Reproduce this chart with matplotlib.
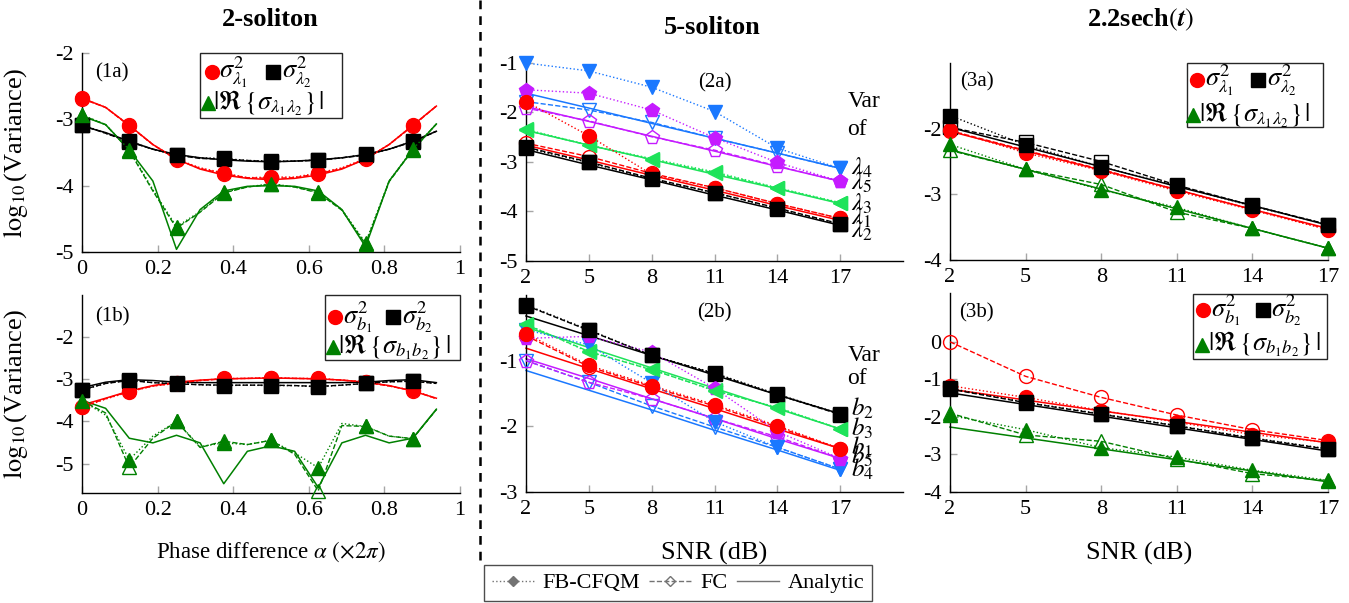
import matplotlib
matplotlib.use("Agg")
import matplotlib.pyplot as plt
from matplotlib.lines import Line2D
from matplotlib.patches import Rectangle

plt.rcParams['font.family'] = 'serif'
plt.rcParams['font.serif'] = ['Liberation Serif', 'DejaVu Serif']
plt.rcParams['mathtext.fontset'] = 'stix'
plt.rcParams['axes.unicode_minus'] = False

# ---------------- data ----------------
alpha = [0, 0.0625, 0.125, 0.1875, 0.25, 0.3125, 0.375, 0.4375,
         0.5, 0.5625, 0.625, 0.6875, 0.75, 0.8125, 0.875, 0.9375]
snr = [2, 5, 8, 11, 14, 17]

# (1a) 2-soliton eigenvalue variances
p1a_l1_fb = [-2.68, -2.82, -3.09, -3.38, -3.60, -3.73, -3.81, -3.88, -3.87, -3.87, -3.81, -3.73, -3.59, -3.38, -3.09, -2.80]
p1a_l1_fc = [-2.69, -2.82, -3.10, -3.38, -3.61, -3.74, -3.82, -3.88, -3.89, -3.88, -3.82, -3.74, -3.60, -3.38, -3.10, -2.80]
p1a_l1_an = [-2.68, -2.82, -3.09, -3.38, -3.60, -3.75, -3.84, -3.89, -3.91, -3.89, -3.84, -3.75, -3.60, -3.38, -3.09, -2.80]
p1a_l2_fb = [-3.08, -3.21, -3.33, -3.45, -3.54, -3.58, -3.59, -3.62, -3.63, -3.63, -3.61, -3.58, -3.53, -3.45, -3.33, -3.18]
p1a_l2_fc = [-3.09, -3.21, -3.34, -3.45, -3.54, -3.59, -3.60, -3.62, -3.64, -3.63, -3.62, -3.58, -3.54, -3.45, -3.34, -3.18]
p1a_l2_an = [-3.10, -3.20, -3.33, -3.45, -3.53, -3.58, -3.61, -3.63, -3.64, -3.63, -3.61, -3.58, -3.53, -3.45, -3.33, -3.18]
p1a_c_fb = [-2.93, -3.08, -3.46, -4.06, -4.62, -4.39, -4.10, -4.02, -3.97, -4.02, -4.10, -4.36, -4.86, -3.93, -3.45, -3.07]
p1a_c_fc = [-2.94, -3.08, -3.47, -4.08, -4.64, -4.40, -4.11, -4.02, -3.98, -4.02, -4.11, -4.37, -4.88, -3.94, -3.46, -3.07]
p1a_c_an = [-2.95, -3.08, -3.46, -3.93, -4.96, -4.36, -4.08, -4.01, -4.00, -4.01, -4.08, -4.36, -4.92, -3.93, -3.46, -3.07]

# (1b) 2-soliton amplitude variances
p1b_b1_fb = [-3.67, -3.47, -3.30, -3.16, -3.10, -3.03, -2.98, -2.98, -2.96, -2.98, -2.98, -3.02, -3.06, -3.16, -3.26, -3.46]
p1b_b1_fc = [-3.66, -3.46, -3.29, -3.16, -3.09, -3.03, -2.99, -2.98, -2.97, -2.98, -2.99, -3.02, -3.07, -3.16, -3.27, -3.46]
p1b_b1_an = [-3.61, -3.45, -3.28, -3.15, -3.07, -3.02, -2.99, -2.98, -2.97, -2.98, -2.99, -3.02, -3.07, -3.15, -3.28, -3.45]
p1b_b2_fb = [-3.26, -3.10, -3.02, -3.08, -3.10, -3.13, -3.15, -3.14, -3.15, -3.15, -3.18, -3.14, -3.10, -3.06, -3.04, -3.10]
p1b_b2_fc = [-3.25, -3.10, -3.03, -3.08, -3.11, -3.13, -3.14, -3.14, -3.14, -3.15, -3.17, -3.14, -3.10, -3.06, -3.05, -3.10]
p1b_b2_an = [-3.20, -3.07, -3.01, -3.03, -3.07, -3.08, -3.08, -3.08, -3.08, -3.08, -3.08, -3.08, -3.07, -3.03, -3.01, -3.08]
p1b_c_fb = [-3.51, -3.85, -4.91, -4.35, -4.00, -4.60, -4.51, -4.55, -4.45, -4.75, -5.10, -4.05, -4.12, -4.35, -4.41, -3.72]
p1b_c_fc = [-3.51, -3.80, -5.09, -4.40, -4.00, -4.62, -4.47, -4.55, -4.45, -4.78, -5.65, -4.10, -4.12, -4.35, -4.41, -3.72]
p1b_c_an = [-3.50, -3.69, -4.40, -4.51, -4.33, -4.51, -5.48, -4.71, -4.58, -4.71, -5.57, -4.51, -4.33, -4.51, -4.40, -3.71]

# (2a) 5-soliton eigenvalue variances
p2a_l1_fb = [-1.78, -2.47, -3.25, -3.52, -3.84, -4.14]
p2a_l1_fc = [-2.62, -2.89, -3.23, -3.52, -3.84, -4.14]
p2a_l1_an = [-2.66, -2.96, -3.27, -3.57, -3.88, -4.18]
p2a_l2_fb = [-2.72, -3.01, -3.35, -3.62, -3.94, -4.26]
p2a_l2_fc = [-2.70, -3.00, -3.33, -3.62, -3.93, -4.25]
p2a_l2_an = [-2.75, -3.06, -3.36, -3.67, -3.97, -4.28]
p2a_l3_fb = [-2.34, -2.66, -2.93, -3.20, -3.52, -3.82]
p2a_l3_fc = [-2.36, -2.66, -2.95, -3.22, -3.53, -3.83]
p2a_l3_an = [-2.36, -2.66, -2.95, -3.25, -3.54, -3.84]
p2a_l4_fb = [-1.00, -1.16, -1.49, -1.98, -2.72, -3.13]
p2a_l4_fc = [-1.78, -1.95, -2.20, -2.52, -2.82, -3.13]
p2a_l4_an = [-1.61, -1.91, -2.22, -2.52, -2.82, -3.13]
p2a_l5_fb = [-1.54, -1.61, -1.95, -2.51, -3.01, -3.39]
p2a_l5_fc = [-1.91, -2.17, -2.49, -2.76, -3.08, -3.39]
p2a_l5_an = [-1.88, -2.18, -2.48, -2.78, -3.09, -3.39]

# (2b) 5-soliton amplitude variances
p2b_b1_fb = [-0.59, -1.07, -1.38, -1.67, -1.99, -2.34]
p2b_b1_fc = [-0.62, -1.09, -1.40, -1.69, -2.01, -2.34]
p2b_b1_an = [-0.81, -1.12, -1.43, -1.73, -2.04, -2.34]
p2b_b2_fb = [-0.15, -0.53, -0.92, -1.19, -1.51, -1.81]
p2b_b2_fc = [-0.16, -0.54, -0.92, -1.20, -1.52, -1.82]
p2b_b2_an = [-0.32, -0.62, -0.92, -1.22, -1.52, -1.81]
p2b_b3_fb = [-0.44, -0.87, -1.13, -1.46, -1.71, -2.04]
p2b_b3_fc = [-0.45, -0.86, -1.14, -1.45, -1.72, -2.04]
p2b_b3_an = [-0.49, -0.80, -1.11, -1.42, -1.73, -2.04]
p2b_b4_fb = [-0.53, -0.76, -1.34, -1.93, -2.32, -2.65]
p2b_b4_fc = [-1.00, -1.33, -1.69, -2.01, -2.32, -2.65]
p2b_b4_an = [-1.15, -1.45, -1.75, -2.06, -2.36, -2.67]
p2b_b5_fb = [-0.66, -0.63, -0.87, -1.42, -2.08, -2.49]
p2b_b5_fc = [-1.00, -1.33, -1.58, -1.88, -2.16, -2.49]
p2b_b5_an = [-0.97, -1.27, -1.58, -1.88, -2.19, -2.49]

# (3a) 2.2sech eigenvalue variances
p3a_l1_fb = [-2.02, -2.37, -2.64, -2.95, -3.24, -3.54]
p3a_l1_fc = [-2.03, -2.33, -2.62, -2.93, -3.23, -3.53]
p3a_l1_an = [-2.04, -2.34, -2.63, -2.93, -3.23, -3.52]
p3a_l2_fb = [-1.80, -2.25, -2.58, -2.87, -3.18, -3.46]
p3a_l2_fc = [-1.98, -2.21, -2.50, -2.86, -3.17, -3.46]
p3a_l2_an = [-1.98, -2.28, -2.58, -2.88, -3.17, -3.47]
p3a_c_fb = [-2.24, -2.62, -2.93, -3.20, -3.52, -3.82]
p3a_c_fc = [-2.33, -2.62, -2.85, -3.27, -3.52, -3.82]
p3a_c_an = [-2.32, -2.62, -2.92, -3.22, -3.52, -3.82]

# (3b) 2.2sech amplitude variances
p3b_b1_fb = [-1.17, -1.48, -1.83, -2.14, -2.47, -2.68]
p3b_b1_fc = [0.00, -0.92, -1.48, -1.95, -2.34, -2.63]
p3b_b1_an = [-1.26, -1.55, -1.84, -2.12, -2.41, -2.69]
p3b_b2_fb = [-1.24, -1.61, -1.92, -2.23, -2.56, -2.85]
p3b_b2_fc = [-1.26, -1.62, -1.93, -2.24, -2.57, -2.86]
p3b_b2_an = [-1.36, -1.67, -1.98, -2.29, -2.60, -2.91]
p3b_c_fb = [-1.96, -2.34, -2.82, -3.07, -3.42, -3.69]
p3b_c_fc = [-1.90, -2.48, -2.65, -3.12, -3.51, -3.70]
p3b_c_an = [-2.27, -2.56, -2.85, -3.14, -3.44, -3.73]

titles = ['2-soliton', '5-soliton', r'2.2sech$(\mathbfit{t})$']
title_fallback = '2.2sech$(t)$'
method_labels = ['FB-CFQM', 'FC', 'Analytic']

# ---------------- styles ----------------
RED = '#ff0000'
BLACK = '#000000'
GREEN = '#008000'
LGREEN = '#1ee35a'
BLUE = '#1a78ff'
MAG = '#c51bff'
MS = 10
TICK_FS = 16
LEG_FS = 19

W, H = 1349, 603
fig = plt.figure(figsize=(W / 100, H / 100), dpi=100)


def add_ax(l, r, t, b):
    ax = fig.add_axes([l / W, 1 - b / H, (r - l) / W, (b - t) / H])
    for s in ['top', 'right']:
        ax.spines[s].set_visible(False)
    for s in ['left', 'bottom']:
        ax.spines[s].set_linewidth(1.0)
    ax.tick_params(direction='in', color='0.65', length=5, width=1.0,
                   labelsize=TICK_FS, pad=6)
    return ax


def trio(ax, x, fb, fc, an, color, marker, every=None):
    kw = dict(clip_on=False, markevery=every)
    ax.plot(x, fb, ls=':', lw=1.0, color=color, marker=marker, ms=MS,
            mfc=color, mec=color, zorder=4, **kw)
    ax.plot(x, fc, ls='--', lw=1.0, color=color, marker=marker, ms=MS,
            mfc='none', mec=color, mew=1.0, zorder=3, **kw)
    ax.plot(x, an, ls='-', lw=1.1, color=color, zorder=2, clip_on=False)


def box_legend(ax, x0, y0, x1, y1, items, fs=LEG_FS):
    ax.add_patch(Rectangle((x0, y0), x1 - x0, y1 - y0, transform=ax.transAxes,
                           fill=True, fc='white', ec='0.15', lw=1.0,
                           clip_on=False, zorder=10))
    for mx, my, mk, col, tx, txt in items:
        ax.plot([mx], [my], marker=mk, ms=MS, color=col, ls='none',
                transform=ax.transAxes, clip_on=False, zorder=11)
        ax.text(tx, my, txt, transform=ax.transAxes, fontsize=fs,
                ha='left', va='center', zorder=12)


# ---------------- (1a) ----------------
ax = add_ax(82, 460, 53, 252)
trio(ax, alpha, p1a_l1_fb, p1a_l1_fc, p1a_l1_an, RED, 'o', 2)
trio(ax, alpha, p1a_l2_fb, p1a_l2_fc, p1a_l2_an, BLACK, 's', 2)
trio(ax, alpha, p1a_c_fb, p1a_c_fc, p1a_c_an, GREEN, '^', 2)
ax.set_xlim(0, 1)
ax.set_ylim(-5, -2)
ax.set_xticks([0, 0.2, 0.4, 0.6, 0.8, 1])
ax.set_xticklabels(['0', '0.2', '0.4', '0.6', '0.8', '1'])
ax.set_yticks([-5, -4, -3, -2])
ax.set_ylabel(r'$\log_{10}$(Variance)', fontsize=19)
ax.yaxis.set_label_coords(-0.138, 0.5)
ax.text(0.035, 0.9, '(1a)', transform=ax.transAxes, fontsize=15, va='center')
box_legend(ax, 0.312, 0.673, 0.688, 1.0, [
    (0.344, 0.905, 'o', RED, 0.362, r'$\sigma^2_{\lambda_1}$'),
    (0.505, 0.905, 's', BLACK, 0.528, r'$\sigma^2_{\lambda_2}$'),
    (0.333, 0.749, '^', GREEN, 0.347, r'$|\Re\,\{\sigma_{\lambda_1\lambda_2}\}\,|$'),
])

# ---------------- (1b) ----------------
ax = add_ax(82, 460, 295, 493)
trio(ax, alpha, p1b_b1_fb, p1b_b1_fc, p1b_b1_an, RED, 'o', 2)
trio(ax, alpha, p1b_b2_fb, p1b_b2_fc, p1b_b2_an, BLACK, 's', 2)
trio(ax, alpha, p1b_c_fb, p1b_c_fc, p1b_c_an, GREEN, '^', 2)
ax.set_xlim(0, 1)
ax.set_ylim(-5.7, -1.0)
ax.set_xticks([0, 0.2, 0.4, 0.6, 0.8, 1])
ax.set_xticklabels(['0', '0.2', '0.4', '0.6', '0.8', '1'])
ax.set_yticks([-5, -4, -3, -2])
ax.set_ylabel(r'$\log_{10}$(Variance)', fontsize=19)
ax.yaxis.set_label_coords(-0.138, 0.5)
ax.set_xlabel(r'Phase difference $\alpha$ $(\times 2\pi)$', fontsize=16.5)
ax.xaxis.set_label_coords(0.5, -0.235)
ax.text(0.035, 0.89, '(1b)', transform=ax.transAxes, fontsize=15, va='center')
box_legend(ax, 0.643, 0.672, 1.0, 1.0, [
    (0.669, 0.889, 'o', RED, 0.69, r'$\sigma^2_{b_1}$'),
    (0.823, 0.889, 's', BLACK, 0.847, r'$\sigma^2_{b_2}$'),
    (0.664, 0.737, '^', GREEN, 0.677, r'$|\Re\,\{\sigma_{b_1b_2}\}\,|$'),
])

# ---------------- (2a) ----------------
ax = add_ax(526, 903, 63, 261)
trio(ax, snr, p2a_l4_fb, p2a_l4_fc, p2a_l4_an, BLUE, 'v')
trio(ax, snr, p2a_l5_fb, p2a_l5_fc, p2a_l5_an, MAG, 'p')
trio(ax, snr, p2a_l3_fb, p2a_l3_fc, p2a_l3_an, LGREEN, '<')
trio(ax, snr, p2a_l1_fb, p2a_l1_fc, p2a_l1_an, RED, 'o')
trio(ax, snr, p2a_l2_fb, p2a_l2_fc, p2a_l2_an, BLACK, 's')
ax.set_xlim(2, 20)
ax.set_ylim(-5, -1)
ax.set_xticks(snr)
ax.set_yticks([-5, -4, -3, -2, -1])
ax.text(0.5, 0.9, '(2a)', transform=ax.transAxes, fontsize=15, ha='center', va='center')
ax.text(17.35, -1.78, 'Var', fontsize=17, va='center')
ax.text(17.35, -2.35, 'of', fontsize=17, va='center')
for yv, lab in [(-3.12, r'$\lambda_4$'), (-3.42, r'$\lambda_5$'), (-3.85, r'$\lambda_3$'),
                (-4.13, r'$\lambda_1$'), (-4.39, r'$\lambda_2$')]:
    ax.text(17.5, yv, lab, fontsize=18, va='center')

# ---------------- (2b) ----------------
ax = add_ax(526, 903, 295, 492)
trio(ax, snr, p2b_b4_fb, p2b_b4_fc, p2b_b4_an, BLUE, 'v')
trio(ax, snr, p2b_b5_fb, p2b_b5_fc, p2b_b5_an, MAG, 'p')
trio(ax, snr, p2b_b3_fb, p2b_b3_fc, p2b_b3_an, LGREEN, '<')
trio(ax, snr, p2b_b1_fb, p2b_b1_fc, p2b_b1_an, RED, 'o')
trio(ax, snr, p2b_b2_fb, p2b_b2_fc, p2b_b2_an, BLACK, 's')
ax.set_xlim(2, 20)
ax.set_ylim(-3, 0)
ax.set_xticks(snr)
ax.set_yticks([-3, -2, -1])
ax.set_xlabel('SNR (dB)', fontsize=19)
ax.xaxis.set_label_coords(0.5, -0.255)
ax.text(0.5, 0.91, '(2b)', transform=ax.transAxes, fontsize=15, ha='center', va='center')
ax.text(17.35, -0.92, 'Var', fontsize=17, va='center')
ax.text(17.35, -1.27, 'of', fontsize=17, va='center')
for yv, lab in [(-1.73, r'$b_2$'), (-2.03, r'$b_3$'), (-2.32, r'$b_1$'),
                (-2.46, r'$b_5$'), (-2.66, r'$b_4$')]:
    ax.text(17.5, yv, lab, fontsize=18, va='center')

# ---------------- (3a) ----------------
ax = add_ax(950, 1328, 63, 260)
trio(ax, snr, p3a_l1_fb, p3a_l1_fc, p3a_l1_an, RED, 'o')
trio(ax, snr, p3a_l2_fb, p3a_l2_fc, p3a_l2_an, BLACK, 's')
trio(ax, snr, p3a_c_fb, p3a_c_fc, p3a_c_an, GREEN, '^')
ax.set_xlim(2, 17)
ax.set_ylim(-4, -1)
ax.set_xticks(snr)
ax.set_yticks([-4, -3, -2])
ax.text(0.07, 0.905, '(3a)', transform=ax.transAxes, fontsize=15, ha='center', va='center')
box_legend(ax, 0.627, 0.675, 0.987, 1.0, [
    (0.653, 0.914, 'o', RED, 0.675, r'$\sigma^2_{\lambda_1}$'),
    (0.815, 0.914, 's', BLACK, 0.838, r'$\sigma^2_{\lambda_2}$'),
    (0.643, 0.736, '^', GREEN, 0.659, r'$|\Re\,\{\sigma_{\lambda_1\lambda_2}\}\,|$'),
])

# ---------------- (3b) ----------------
ax = add_ax(950, 1328, 293, 492)
trio(ax, snr, p3b_b1_fb, p3b_b1_fc, p3b_b1_an, RED, 'o')
trio(ax, snr, p3b_b2_fb, p3b_b2_fc, p3b_b2_an, BLACK, 's')
trio(ax, snr, p3b_c_fb, p3b_c_fc, p3b_c_an, GREEN, '^')
ax.set_xlim(2, 17)
ax.set_ylim(-4, 1.3)
ax.set_xticks(snr)
ax.set_yticks([-4, -3, -2, -1, 0])
ax.set_xlabel('SNR (dB)', fontsize=19)
ax.xaxis.set_label_coords(0.5, -0.25)
ax.text(0.07, 0.9, '(3b)', transform=ax.transAxes, fontsize=15, ha='center', va='center')
box_legend(ax, 0.643, 0.668, 0.997, 0.995, [
    (0.669, 0.915, 'o', RED, 0.69, r'$\sigma^2_{b_1}$'),
    (0.828, 0.915, 's', BLACK, 0.85, r'$\sigma^2_{b_2}$'),
    (0.667, 0.739, '^', GREEN, 0.682, r'$|\Re\,\{\sigma_{b_1b_2}\}\,|$'),
])

# ---------------- titles, separator, legend ----------------
fig.text(270 / W, 1 - 20 / H, titles[0], ha='center', va='center', fontsize=19, fontweight='bold')
fig.text(712 / W, 1 - 28 / H, titles[1], ha='center', va='center', fontsize=19, fontweight='bold')
t3 = fig.text(1140 / W, 1 - 20 / H, titles[2], ha='center', va='center', fontsize=19, fontweight='bold')

fig.add_artist(Line2D([480 / W, 480 / W], [1.0, 1 - 560 / H], transform=fig.transFigure,
                      color='black', lw=1.8, ls=(0, (3.5, 2.8))))

GRAY = '0.45'
handles = [
    Line2D([], [], ls=':', lw=1.0, color=GRAY, marker='D', ms=5, mfc=GRAY, mec=GRAY),
    Line2D([], [], ls='--', lw=1.0, color=GRAY, marker='D', ms=5, mfc='none', mec=GRAY),
    Line2D([], [], ls='-', lw=1.0, color=GRAY),
]
leg = fig.legend(handles, method_labels, loc='upper center',
                 bbox_to_anchor=(678 / W, 1 - 565 / H), ncol=3, fontsize=16,
                 frameon=True, fancybox=False, edgecolor='0.3', framealpha=1,
                 handlelength=1.9, columnspacing=0.4, handletextpad=0.4,
                 borderpad=0.35, borderaxespad=0.0)
leg.get_frame().set_linewidth(1.0)

try:
    fig.savefig('out.png', dpi=100)
except Exception:
    t3.set_text(title_fallback)
    fig.savefig('out.png', dpi=100)
